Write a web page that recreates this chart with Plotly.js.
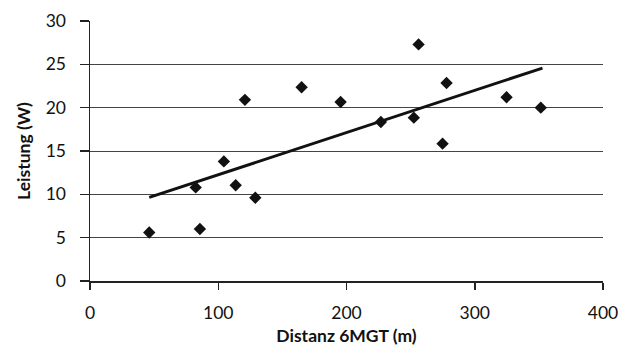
<!DOCTYPE html>
<html><head><meta charset="utf-8">
<script src="https://cdn.plot.ly/plotly-3.0.1.min.js"></script>
<style>html,body{margin:0;padding:0;background:#fff}#c{width:629px;height:347px}</style>
</head><body><div id="c"></div>
<script>
const distanz = [46.2, 82.4, 85.7, 104.4, 113.6, 120.8, 128.9, 165.0, 195.4, 226.8, 252.5, 256.2, 274.9, 278.0, 324.8, 351.5];
const leistung = [5.6, 10.8, 6.0, 13.8, 11.05, 20.9, 9.6, 22.35, 20.65, 18.35, 18.85, 27.3, 15.85, 22.85, 21.2, 20.0];
const trendX = [46.2, 352.8];
const trendY = [9.64, 24.57];
const xTicks = [0, 100, 200, 300, 400];
const yTicks = [0, 5, 10, 15, 20, 25, 30];

const font = "Lato, 'Open Sans', sans-serif";
const data = [
  {x: trendX, y: trendY, mode: 'lines', line: {color: '#111', width: 3}, hoverinfo: 'skip'},
  {x: distanz, y: leistung, mode: 'markers', marker: {symbol: 'diamond', size: 9.5, color: '#111'}}
];
const layout = {
  width: 629, height: 347,
  margin: {l: 90, r: 26, t: 21, b: 66},
  showlegend: false,
  paper_bgcolor: '#fff', plot_bgcolor: '#fff',
  font: {family: font, size: 17.5, color: '#111'},
  xaxis: {
    range: [0, 400], tickvals: xTicks, showgrid: false, zeroline: false,
    showline: true, linecolor: '#222', linewidth: 1.5,
    ticks: 'outside', ticklen: 7, tickcolor: '#222', tickwidth: 1.5,
    ticklabelstandoff: 8,
    title: {text: 'Distanz 6MGT (m)', font: {family: font, size: 17.5, weight: 'bold', color: '#111'}, standoff: 8}
  },
  yaxis: {
    range: [0, 30], tickvals: yTicks, showgrid: true, gridcolor: '#444', gridwidth: 1, zeroline: false,
    showline: true, linecolor: '#222', linewidth: 1.5,
    ticks: 'outside', ticklen: 9, tickcolor: '#222', tickwidth: 1.2,
    ticklabelstandoff: 10,
    title: {text: 'Leistung (W)', font: {family: font, size: 17.5, weight: 'bold', color: '#111'}, standoff: 10}
  }
};
Plotly.newPlot('c', data, layout, {displayModeBar: false, staticPlot: true});
</script></body></html>
